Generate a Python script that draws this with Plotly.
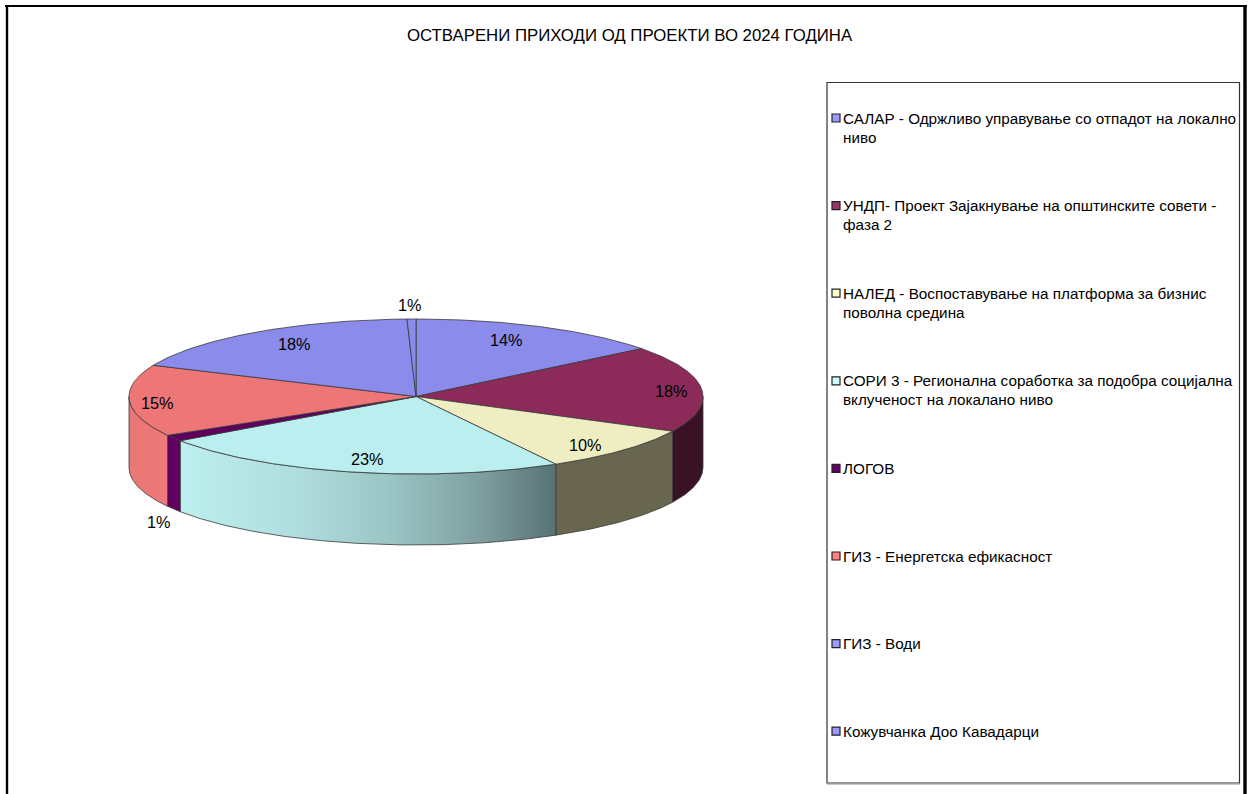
import numpy as np
import plotly.graph_objects as go

TITLE = "ОСТВАРЕНИ ПРИХОДИ ОД ПРОЕКТИ ВО 2024 ГОДИНА"
categories = [
    "САЛАР - Одржливо управување со отпадот на локално<br>ниво",
    "УНДП- Проект Зајакнување на општинските совети -<br>фаза 2",
    "НАЛЕД - Воспоставување на платформа за бизнис<br>поволна средина",
    "СОРИ 3 - Регионална соработка за подобра социјална<br>вклученост на локалано ниво",
    "ЛОГОВ",
    "ГИЗ - Енергетска ефикасност",
    "ГИЗ - Води",
    "Кожувчанка Доо Кавадарци",
]
values = [14.4, 18.0, 9.5, 23.45, 1.3, 14.95, 17.9, 0.5]
labels = ["14%", "18%", "10%", "23%", "1%", "15%", "18%", "1%"]

legend_colors = ["#9999ff", "#993366", "#ffffcc", "#ccffff", "#660066", "#ff8080", "#9999ff", "#9999ff"]
top_colors = ["#8b8bec", "#8c2b5a", "#efeec2", "#bbeeee", "#5f005f", "#ef7676", "#8b8bec", "#8b8bec"]
wall_scales = [
    None,
    [[0, "#3a1226"], [1, "#3a1226"]],
    [[0, "#68664f"], [1, "#68664f"]],
    [[0, "#bdefef"], [0.3, "#b0dede"], [0.55, "#9cc6c6"], [0.8, "#7e9f9f"], [1, "#587274"]],
    [[0, "#5f005f"], [1, "#5f005f"]],
    [[0, "#e97676"], [1, "#f07878"]],
    None,
    None,
]
label_xy = [(506, 340), (671, 391), (585, 445), (367, 459), (159, 522), (157, 403), (294, 344), (410, 305)]

CX, CY, RX, RY, DEPTH = 416, 396.5, 287, 77.5, 71
EDGE = "#3a3a3a"


def arc(a0, a1, dy=0.0):
    t = np.radians(np.linspace(a0, a1, max(int(abs(a1 - a0) * 2), 2)))
    return CX + RX * np.sin(t), CY - RY * np.cos(t) + dy


fig = go.Figure()
ends = np.cumsum(values) / np.sum(values) * 360
starts = np.concatenate([[0], ends[:-1]])

# Side walls: only the front half of the rim is visible
for a0, a1, scale in zip(starts, ends, wall_scales):
    lo, hi = max(a0, 90), min(a1, 270)
    if hi <= lo or scale is None:
        continue
    xt, yt = arc(lo, hi)
    xb, yb = arc(hi, lo, DEPTH)
    x = np.concatenate([xt, xb, xt[:1]])
    y = np.concatenate([yt, yb, yt[:1]])
    fig.add_trace(go.Scatter(
        x=x, y=y, mode="lines", line=dict(color=EDGE, width=0.8),
        fill="toself",
        fillgradient=dict(type="horizontal", colorscale=scale),
        hoverinfo="skip", showlegend=False,
    ))

# Top faces
for a0, a1, color in zip(starts, ends, top_colors):
    xa, ya = arc(a0, a1)
    x = np.concatenate([[CX], xa, [CX]])
    y = np.concatenate([[CY], ya, [CY]])
    fig.add_trace(go.Scatter(
        x=x, y=y, mode="lines", line=dict(color=EDGE, width=0.8),
        fill="toself", fillcolor=color, hoverinfo="skip", showlegend=False,
    ))

annotations = [dict(x=630, y=35, text=TITLE, showarrow=False,
                    font=dict(size=16.8, color="#000000"))]
for text, (lx, ly) in zip(labels, label_xy):
    annotations.append(dict(x=lx, y=ly, text=text, showarrow=False,
                            font=dict(size=16.3, color="#000000")))

shapes = [
    dict(type="line", x0=7, x1=7, y0=5, y1=800, line=dict(color="#000000", width=2.4)),
    dict(type="line", x0=5, x1=1247, y0=6, y1=6, line=dict(color="#000000", width=2.2)),
    dict(type="line", x0=1245, x1=1245, y0=5, y1=800, line=dict(color="#000000", width=3.4)),
    dict(type="line", x0=827, x1=1240, y0=784.5, y1=784.5, line=dict(color="#c8c8c8", width=1)),
    dict(type="rect", x0=827, x1=1239.5, y0=82.5, y1=783, line=dict(color="#333333", width=1.2)),
]
LEG_Y0, LEG_STEP, LINE_STEP = 118, 87.6, 19
for i, (name, color) in enumerate(zip(categories, legend_colors)):
    yc = LEG_Y0 + i * LEG_STEP
    shapes.append(dict(type="rect", x0=832, x1=840, y0=yc - 4, y1=yc + 4,
                       fillcolor=color, line=dict(color="#222222", width=1.2)))
    for j, line in enumerate(name.split("<br>")):
        annotations.append(dict(x=840.5, y=yc + j * LINE_STEP, text=line, showarrow=False,
                                xanchor="left", yanchor="middle", align="left",
                                font=dict(size=15.27, color="#000000")))

fig.update_layout(
    width=1252, height=794, margin=dict(l=0, r=0, t=0, b=0),
    paper_bgcolor="#ffffff", plot_bgcolor="#ffffff",
    font=dict(family="Liberation Sans, Arial, sans-serif", color="#000000"),
    xaxis=dict(range=[0, 1252], visible=False, fixedrange=True),
    yaxis=dict(range=[794, 0], visible=False, fixedrange=True),
    annotations=annotations, shapes=shapes, showlegend=False,
)
fig.write_html("out.html", config={"displayModeBar": False},
               post_script="document.body.style.margin='0';document.body.style.overflow='hidden';")
